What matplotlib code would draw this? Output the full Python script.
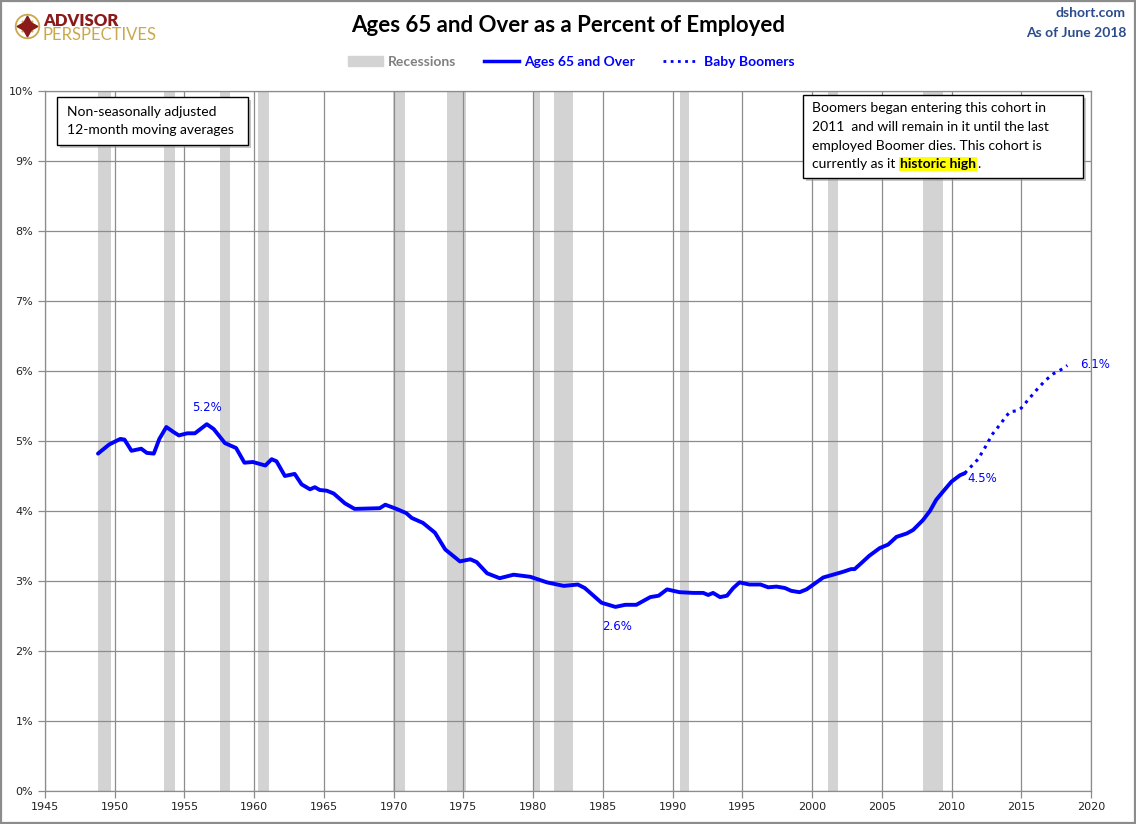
import matplotlib.pyplot as plt
from matplotlib.patches import Rectangle, Patch
from matplotlib.lines import Line2D

W, H = 1136, 824

# Ages 65+ as % of employed (12-month moving average)
years_65 = [
    1948.8, 1949.6, 1950.4, 1950.7, 1951.2, 1951.9, 1952.3, 1952.8, 1953.2, 1953.7,
    1954.2, 1954.6, 1955.2, 1955.75, 1956.6, 1957.1, 1957.9, 1958.7, 1959.3, 1959.9,
    1960.8, 1961.25, 1961.6, 1962.2, 1962.9, 1963.4, 1964.0, 1964.35, 1964.7, 1965.2,
    1965.7, 1966.5, 1967.2, 1969.0, 1969.4, 1970.2, 1970.9, 1971.3, 1972.1, 1972.96,
    1973.7, 1974.75, 1975.5, 1975.95, 1976.7, 1977.6, 1978.6, 1979.8, 1981.0, 1982.2,
    1983.2, 1983.7, 1984.9, 1985.9, 1986.6, 1987.4, 1988.4, 1989.0, 1989.6, 1990.5,
    1991.5, 1992.2, 1992.55, 1992.9, 1993.4, 1993.9, 1994.35, 1994.8, 1995.5, 1996.3,
    1996.85, 1997.45, 1998.05, 1998.5, 1999.1, 1999.6, 2000.1, 2000.8, 2001.5, 2002.2,
    2002.8, 2003.05, 2003.5, 2004.1, 2004.85, 2005.45, 2006.05, 2006.8, 2007.25, 2007.95,
    2008.45, 2008.9, 2009.4, 2010.0, 2010.6, 2010.95,
]
values_65 = [
    4.82, 4.95, 5.03, 5.02, 4.86, 4.89, 4.83, 4.82, 5.03, 5.20,
    5.13, 5.08, 5.11, 5.11, 5.24, 5.17, 4.97, 4.90, 4.69, 4.70,
    4.65, 4.74, 4.71, 4.50, 4.53, 4.38, 4.31, 4.34, 4.30, 4.29,
    4.25, 4.11, 4.03, 4.04, 4.09, 4.03, 3.97, 3.90, 3.83, 3.69,
    3.45, 3.28, 3.31, 3.27, 3.11, 3.04, 3.09, 3.06, 2.98, 2.93,
    2.95, 2.90, 2.69, 2.63, 2.66, 2.66, 2.77, 2.79, 2.88, 2.84,
    2.83, 2.83, 2.80, 2.83, 2.77, 2.79, 2.90, 2.98, 2.95, 2.95,
    2.91, 2.92, 2.90, 2.86, 2.84, 2.88, 2.95, 3.05, 3.09, 3.13,
    3.17, 3.17, 3.25, 3.36, 3.47, 3.52, 3.63, 3.68, 3.73, 3.87,
    4.00, 4.16, 4.28, 4.42, 4.51, 4.54,
]

# Baby boomer period (2011 onward)
years_bb = [2010.95, 2011.9, 2012.5, 2012.9, 2013.5, 2013.9, 2014.2, 2014.65, 2015.0,
            2015.5, 2016.1, 2016.7, 2017.3, 2017.95, 2018.3]
values_bb = [4.54, 4.74, 4.94, 5.09, 5.24, 5.35, 5.42, 5.43, 5.47,
             5.59, 5.73, 5.86, 5.96, 6.03, 6.08]

# NBER recessions (start, end)
recessions = [
    (1948.83, 1949.75), (1953.5, 1954.33), (1957.58, 1958.25), (1960.25, 1961.08),
    (1969.92, 1970.83), (1973.83, 1975.17), (1980.0, 1980.5), (1981.5, 1982.83),
    (1990.5, 1991.17), (2001.17, 2001.83), (2007.92, 2009.42),
]

BLUE = '#0000FF'
GREY_BAR = '#D3D3D3'
GRID = '#8C8C8C'
DOTS = (0, (1, 1.6))


def fx(x):
    return x / W


def fy(y):
    return 1 - y / H


fig = plt.figure(figsize=(W / 100, H / 100), dpi=100)
ax = fig.add_axes([fx(45), fy(791), (1091 - 45) / W, (791 - 91) / H])

for s, e in recessions:
    ax.axvspan(s, e, color=GREY_BAR, lw=0, zorder=0.2)

ax.plot(years_65, values_65, color=BLUE, lw=2.8, zorder=3, solid_capstyle='round')
ax.plot(years_bb, values_bb, color=BLUE, lw=2.2, ls=DOTS, zorder=3)

ax.set_xlim(1945, 2020)
ax.set_ylim(0, 10)
ax.set_xticks(range(1945, 2021, 5))
ax.set_yticks(range(0, 11))
ax.set_yticklabels([f'{v}%' for v in range(0, 11)])
ax.set_axisbelow(True)
ax.grid(True, color=GRID, lw=0.9, zorder=0.5)
for sp in ax.spines.values():
    sp.set_color(GRID)
    sp.set_linewidth(0.9)
ax.tick_params(axis='both', colors=GRID, length=5, width=0.9, labelcolor='#222222',
               labelsize=8)
ax.tick_params(axis='x', pad=3)

# point labels
i_pk = values_65.index(max(values_65[:20]))
ax.annotate(f'{values_65[i_pk]:.1f}%', xy=(years_65[i_pk], values_65[i_pk]), xytext=(0, 12),
            textcoords='offset points', ha='center', va='center', color=BLUE, fontsize=8.5)
i_tr = values_65.index(min(values_65))
ax.annotate('2.6%', xy=(years_65[i_tr], values_65[i_tr]), xytext=(1, -14),
            textcoords='offset points', ha='center', va='center', color=BLUE, fontsize=8.5)
ax.annotate('4.5%', xy=(years_65[-1], values_65[-1]), xytext=(2, -4),
            textcoords='offset points', ha='left', va='center', color=BLUE, fontsize=8.5)
ax.annotate('6.1%', xy=(years_bb[-1], values_bb[-1]), xytext=(9, 1),
            textcoords='offset points', ha='left', va='center', color=BLUE, fontsize=8.5)

# title and headers
fig.text(fx(568), fy(25), 'Ages 65 and Over as a Percent of Employed', ha='center', va='center',
         fontsize=16, fontweight='bold', family='Lato')
fig.text(fx(1126), fy(13), 'dshort.com', ha='right', va='center', fontsize=10,
         fontweight='bold', color='#2B4C8C', family='Lato')
fig.text(fx(1126), fy(33), 'As of June 2018', ha='right', va='center', fontsize=10,
         fontweight='bold', color='#2B4C8C', family='Lato')

# logo
lax = fig.add_axes([fx(12), fy(41), 30 / W, 30 / H])
lax.set_xlim(-1, 1)
lax.set_ylim(-1, 1)
lax.axis('off')
lax.plot(0, 0, marker='o', ms=17, mfc='none', mec='#C9A94E', mew=1.3)
lax.plot(0, 0, marker=(4, 1, 45), ms=11, color='#C9A94E')
lax.plot(0, 0, marker=(4, 1, 0), ms=15, color='#8B1A1A')
fig.text(fx(43), fy(26), 'ADVISOR', ha='left', va='baseline', fontsize=12, fontweight='heavy',
         color='#8B1A1A', family='Lato')
fig.text(fx(42), fy(40), 'PERSPECTIVES', ha='left', va='baseline', fontsize=12,
         color='#C9A94E', family='Lato')

# legend
handles = [Patch(color=GREY_BAR), Line2D([], [], color=BLUE, lw=2.5),
           Line2D([], [], color=BLUE, lw=2.0, ls=DOTS)]
leg = fig.legend(handles, ['Recessions', 'Ages 65 and Over', 'Baby Boomers'], loc='center',
                 bbox_to_anchor=(fx(571), fy(62)), ncol=3, frameon=False, handlelength=2.5,
                 handletextpad=0.4, columnspacing=2.0,
                 prop=dict(family='Lato', weight='bold', size=10))
for t, c in zip(leg.get_texts(), ['#808080', BLUE, BLUE]):
    t.set_color(c)


def note_box(x0, y0, x1, y1):
    fig.add_artist(Rectangle((fx(x0 + 3), fy(y1 + 3)), fx(x1 - x0), (y1 - y0) / H,
                             transform=fig.transFigure, fc='#A0A0A0', ec='none', alpha=0.6,
                             zorder=5))
    fig.add_artist(Rectangle((fx(x0), fy(y1)), fx(x1 - x0), (y1 - y0) / H,
                             transform=fig.transFigure, fc='white', ec='black', lw=1.0,
                             zorder=6))


note_box(57, 97, 248, 145)
for y, s in [(112, 'Non-seasonally adjusted'), (130, '12-month moving averages')]:
    fig.text(fx(67), fy(y), s, ha='left', va='center', fontsize=10, family='Lato', zorder=7)

note_box(803, 95, 1083, 178)
lines = ['Boomers began entering this cohort in',
         '2011  and will remain in it until the last',
         'employed Boomer dies. This cohort is']
for y, s in zip([108, 127, 146], lines):
    fig.text(fx(812), fy(y), s, ha='left', va='center', fontsize=10, family='Lato', zorder=7)
t_last = fig.text(fx(812), fy(164), 'currently as it', ha='left', va='center', fontsize=10,
                  family='Lato', zorder=7)
hl = fig.add_artist(plt.Annotation('historic high', xy=(1, 0.5), xycoords=t_last,
                                   xytext=(3.5, 0), textcoords='offset points', ha='left',
                                   va='center', fontsize=10, fontweight='bold', family='Lato',
                                   bbox=dict(boxstyle='square,pad=0.08', fc='#FFFF00',
                                             ec='none'), zorder=7))
fig.add_artist(plt.Annotation('.', xy=(1, 0.5), xycoords=hl, xytext=(0.5, 0),
                              textcoords='offset points', ha='left', va='center', fontsize=10,
                              family='Lato', zorder=7))

# outer border
fig.add_artist(Rectangle((0.0008, 0.0012), 0.9984, 0.9976, transform=fig.transFigure,
                         fc='none', ec='#8C8C8C', lw=1.6, zorder=10))

fig.savefig('out.png', dpi=100)
